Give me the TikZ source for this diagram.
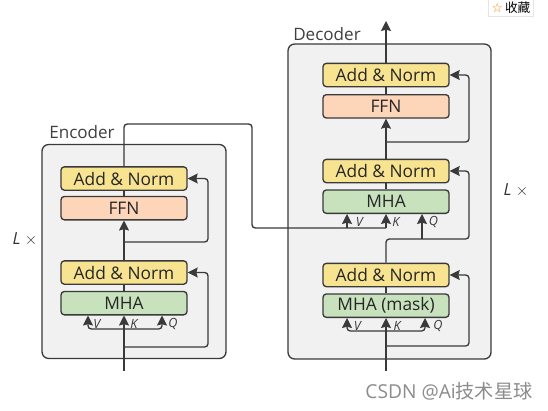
\documentclass[tikz,border=0pt]{standalone}
\usepackage{xcolor}
\usepackage{fontspec}
\setmainfont{Open Sans}
\newfontfamily\cjk{Noto Sans CJK SC}
\newfontfamily\symb{DejaVu Sans}
\usetikzlibrary{arrows.meta,positioning,calc}
\definecolor{linegray}{HTML}{3A3A3A}
\definecolor{panelgray}{HTML}{F1F1F1}
\definecolor{normyellow}{HTML}{F8E391}
\definecolor{ffnorange}{HTML}{FDD5B9}
\definecolor{mhagreen}{HTML}{C7E2BC}
\tikzset{
  panel/.style={draw=linegray, fill=panelgray, line width=1pt, rounded corners=5pt},
  block/.style={draw=linegray, line width=1pt, rounded corners=2.5pt, minimum width=94.5pt, minimum height=17.5pt, inner sep=0pt, font=\fontsize{13}{14}\selectfont, text=black!85},
  addnorm/.style={block, fill=normyellow},
  ffn/.style={block, fill=ffnorange},
  mha/.style={block, fill=mhagreen},
  flow/.style={draw=linegray, line width=1pt, rounded corners=2.5pt},
  flowto/.style={flow, -{Stealth[length=7.5pt, width=7.5pt, inset=1pt]}},
  letter/.style={inner sep=0pt, font=\fontsize{9.5}{10}\selectfont\itshape, text=linegray},
  caption/.style={inner sep=0pt, font=\fontsize{12.8}{14}\selectfont, text=black!75},
  times/.style={inner sep=0pt, font=\fontsize{12.5}{14}\selectfont\itshape, text=black!80}
}
\begin{document}
\begin{tikzpicture}[x=0.75pt, y=-0.75pt]
\useasboundingbox (0,0) rectangle (548,410);

% panels
\fill[white] (0,0) rectangle (548,410);
\node[panel, minimum width=138pt, minimum height=160.5pt, inner sep=0pt] (encoder) at (134,251.5) {};
\node[panel, minimum width=152.25pt, minimum height=236.25pt, inner sep=0pt] (decoder) at (389.5,201.5) {};
\node[caption] (enclabel) at (82,132) {Encoder};
\node[caption] (declabel) at (327,34) {Decoder};
\node[times] (enctimes) at (25,239) {L $\times$};
\node[times] (dectimes) at (516,190) {L $\times$};

% encoder
\node[addnorm] (encnormb) at (124,178.5) {Add \& Norm};
\node[ffn, below=3.75pt of encnormb] (encffn) {FFN};
\node[addnorm] (encnorma) at (124,272.5) {Add \& Norm};
\node[mha, below=4.5pt of encnorma] (encmha) {MHA};

% decoder
\node[addnorm] (decnormc) at (386,75) {Add \& Norm};
\node[ffn, below=5pt of decnormc] (decffn) {FFN};
\node[addnorm] (decnormb) at (386,171) {Add \& Norm};
\node[mha, below=4.5pt of decnormb] (decmha) {MHA};
\node[addnorm] (decnorma) at (386,275) {Add \& Norm};
\node[mha, below=4.5pt of decnorma] (decmask) {MHA (mask)};

% encoder connectors
\coordinate (encin) at (124,371);
\coordinate (encfork) at (124,329);
\coordinate (encv) at ($(encmha.south)+(-36,0)$);
\coordinate (encq) at ($(encmha.south)+(38,0)$);
\coordinate (encskipa) at (124,347);
\coordinate (encbacka) at (208,347);
\coordinate (encskipb) at (124,242);
\coordinate (encbackb) at (208,242);
\draw[flowto] (encin) -- (encmha.south);
\draw[flowto] (encfork) -| (encv);
\draw[flowto] (encfork) -| (encq);
\draw[flowto] (encskipa) -- (encbacka) |- (encnorma.east);
\draw[flow] (encmha.north) -- (encnorma.south);
\draw[flowto] (encnorma.north) -- (encffn.south);
\draw[flow] (encffn.north) -- (encnormb.south);
\draw[flowto] (encskipb) -- (encbackb) |- (encnormb.east);
\node[letter, right=3.75pt of encv, yshift=-6pt] (encvl) {V};
\node[letter, right=4.5pt of encmha.south, yshift=-6pt] (enckl) {K};
\node[letter, right=4.5pt of encq, yshift=-6pt] (encql) {Q};

% encoder to decoder
\coordinate (crosstop) at (124,124);
\coordinate (crossright) at (252,124);
\coordinate (crosslow) at (252,228);
\coordinate (deck) at ($(decmha.south)+(0,0)$);
\coordinate (decv) at ($(decmha.south)+(-39,0)$);
\coordinate (decvfoot) at (347,228);
\coordinate (deckfoot) at (386,228);
\draw[flow] (encnormb.north) -- (crosstop) -- (crossright) -- (crosslow) -- (deckfoot);
\draw[flowto] (deckfoot) -- (deck);
\draw[flowto] (decvfoot) -- (decv);

% decoder connectors
\coordinate (decin) at (386,371);
\coordinate (decfork) at (386,331);
\coordinate (decmv) at ($(decmask.south)+(-39,0)$);
\coordinate (decmq) at ($(decmask.south)+(39,0)$);
\coordinate (decskipa) at (386,346);
\coordinate (decbacka) at (469,346);
\coordinate (decturn) at (386,239);
\coordinate (decqfoot) at (422,239);
\coordinate (decq) at ($(decmha.south)+(36,0)$);
\coordinate (decbackb) at (469,239);
\coordinate (decskipc) at (386,142);
\coordinate (decbackc) at (469,142);
\coordinate (decout) at (386,21);
\draw[flowto] (decin) -- (decmask.south);
\draw[flowto] (decfork) -| (decmv);
\draw[flowto] (decfork) -| (decmq);
\draw[flowto] (decskipa) -- (decbacka) |- (decnorma.east);
\draw[flow] (decmask.north) -- (decnorma.south);
\draw[flowto] (decnorma.north) -- (decturn) -- (decbackb) |- (decnormb.east);
\draw[flowto] (decqfoot) -- (decq);
\draw[flow] (decmha.north) -- (decnormb.south);
\draw[flowto] (decnormb.north) -- (decffn.south);
\draw[flow] (decffn.north) -- (decnormc.south);
\draw[flowto] (decskipc) -- (decbackc) |- (decnormc.east);
\draw[flowto] (decnormc.north) -- (decout);
\node[letter, right=6.5pt of decv, yshift=-6pt] (decvl) {V};
\node[letter, right=4.5pt of deck, yshift=-6pt] (deckl) {K};
\node[letter, right=5pt of decq, yshift=-6pt] (decql) {Q};
\node[letter, right=5pt of decmv, yshift=-6pt] (decmvl) {V};
\node[letter, right=5.5pt of decmask.south, yshift=-6pt] (decmkl) {K};
\node[letter, right=6pt of decmq, yshift=-6pt] (decmql) {Q};

% page marks
\node[draw=black!10, fill=white, minimum width=34pt, minimum height=13pt, inner sep=0pt, font=\fontsize{9.5}{10}\selectfont] (favbox) at (511,8) {{\symb\color{orange}☆}\,{\cjk 收藏}};
\node[inner sep=0pt, font=\fontsize{14.4}{16}\selectfont, text=black!45] (mark) at (449,391) {CSDN @Ai{\cjk 技术星球}};
\end{tikzpicture}
\end{document}
